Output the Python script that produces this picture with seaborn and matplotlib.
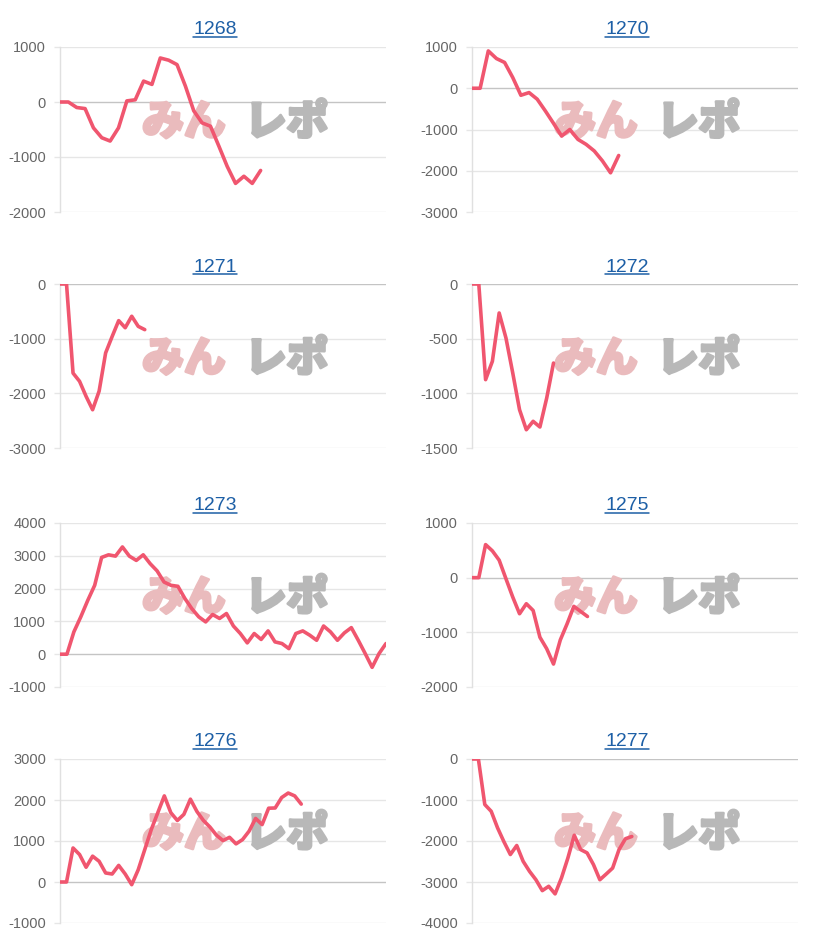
import numpy as np
import pandas as pd
import matplotlib
matplotlib.use("Agg")
import matplotlib.pyplot as plt
import matplotlib.patheffects as pe
from matplotlib.lines import Line2D
from matplotlib.transforms import IdentityTransform, offset_copy
import seaborn as sns

# machine numbers shown as panel titles
machines = ['1268', '1270', '1271', '1272', '1273', '1275', '1276', '1277']

# coin difference readings per machine
diff_1268 = [0, 0, -100, -120, -470, -650, -710, -470, 20, 40, 380, 320, 800, 760,
             680, 290, -160, -380, -440, -800, -1170, -1480, -1350, -1480, -1245]
diff_1270 = [0, 0, 905, 720, 625, 260, -170, -105, -265, -550, -850, -1160, -1000,
             -1240, -1360, -1520, -1760, -2050, -1630]
diff_1271 = [0, 0, -1630, -1780, -2055, -2300, -1960, -1260, -960, -670, -800, -590,
             -775, -835]
diff_1272 = [0, 0, -875, -707, -265, -494, -814, -1150, -1333, -1256, -1308, -1043, -723]
diff_1273 = [0, 0, 680, 1140, 1640, 2100, 2950, 3030, 2990, 3270, 2990, 2860, 3030,
             2760, 2540, 2200, 2100, 2070, 1700, 1390, 1140, 985, 1210, 1090, 1240,
             860, 630, 345, 630, 450, 710, 375, 325, 170, 630, 710, 580, 425, 860,
             680, 425, 650, 810, 425, 20, -400, 20, 325]
diff_1275 = [0, 0, 605, 490, 320, -20, -355, -660, -477, -600, -1090, -1300, -1580,
             -1140, -845, -525, -618, -710]
diff_1276 = [0, 0, 830, 670, 360, 630, 505, 220, 195, 405, 195, -65, 300, 790, 1280,
             1690, 2100, 1690, 1500, 1650, 2020, 1720, 1500, 1340, 1140, 1010, 1090,
             930, 1035, 1240, 1550, 1400, 1800, 1805, 2060, 2170, 2100, 1900]
diff_1277 = [0, 0, -1110, -1275, -1680, -2020, -2330, -2110, -2495, -2740, -2945,
             -3210, -3105, -3290, -2900, -2415, -1860, -2210, -2290, -2575, -2945,
             -2805, -2660, -2210, -1945, -1890]

series = [diff_1268, diff_1270, diff_1271, diff_1272,
          diff_1273, diff_1275, diff_1276, diff_1277]

# y axis range and tick step per panel
y_ranges = [(-2000, 1000, 1000), (-3000, 1000, 1000), (-3000, 0, 1000), (-1500, 0, 500),
            (-1000, 4000, 1000), (-2000, 1000, 1000), (-1000, 3000, 1000), (-4000, 0, 1000)]
# number of time slots on each x axis
x_slots = [39, 40, 50, 48, 47, 48, 50, 51]

LINE = '#f0566f'
TITLE = '#1d5fa6'
PINK = '#eabbbd'
GREY = '#b8b8b8'

sns.set_theme(style='white')
plt.rcParams['font.family'] = ['Liberation Sans', 'DejaVu Sans']
jp = ['Noto Sans CJK JP', 'DejaVu Sans']

rows = []
for m, vals in zip(machines, series):
    for i, v in enumerate(vals):
        rows.append({'machine': m, 'slot': i, 'diff': v})
df = pd.DataFrame(rows)

W, H = 833, 944
fig = plt.figure(figsize=(W / 100, H / 100), dpi=100)

col_x = [60, 472]
row_y = [(47, 212), (284, 448), (523, 687), (759, 923)]
plot_w = 326

axes = []
for k, m in enumerate(machines):
    r, c = divmod(k, 2)
    top, bot = row_y[r]
    ax = fig.add_axes([col_x[c] / W, 1 - bot / H, plot_w / W, (bot - top) / H])
    axes.append(ax)

    lo, hi, step = y_ranges[k]
    ticks = np.arange(lo, hi + step, step)

    # watermark behind the line
    ax.text(0.38, 0.54, 'みん', transform=ax.transAxes, ha='center', va='center',
            fontsize=30, fontweight='black', color=PINK, zorder=1, family=jp,
            path_effects=[pe.withStroke(linewidth=2, foreground=PINK)])
    ax.text(0.695, 0.54, 'レポ', transform=ax.transAxes, ha='center', va='center',
            fontsize=30, fontweight='black', color=GREY, zorder=1, family=jp,
            path_effects=[pe.withStroke(linewidth=2, foreground=GREY)])

    for t in ticks:
        ax.axhline(t, color='#c4c4c4' if t == 0 else '#e6e6e6',
                   lw=1.0, zorder=0.5)

    sns.lineplot(data=df[df['machine'] == m], x='slot', y='diff', ax=ax,
                 color=LINE, linewidth=2.6, zorder=3)

    ax.set_xlim(0, x_slots[k])
    ax.set_ylim(lo, hi)
    ax.set_yticks(ticks)
    ax.set_yticklabels([str(int(t)) for t in ticks])
    ax.set_xticks([])
    ax.set_xlabel('')
    ax.set_ylabel('')
    for s in ['top', 'right', 'bottom']:
        ax.spines[s].set_visible(False)
    ax.spines['left'].set_color('#e0e0e0')
    ax.spines['left'].set_linewidth(1.0)
    ax.tick_params(axis='y', length=4, width=1, color='#e6e6e6',
                   labelsize=10.5, labelcolor='#666666', pad=6, left=True)
    ax.patch.set_alpha(0)
    ax.set_title(m, fontsize=14, color=TITLE, pad=9)
    ax.title.set_transform(offset_copy(ax.title.get_transform(), fig=fig,
                                       x=-8, y=0, units='dots'))

# underline the titles like links
fig.canvas.draw()
renderer = fig.canvas.get_renderer()
for ax in axes:
    bb = ax.title.get_window_extent(renderer)
    y = bb.y0 + 1.5
    fig.add_artist(Line2D([bb.x0, bb.x1], [y, y], transform=IdentityTransform(),
                          color=TITLE, lw=1.1))

fig.savefig('out.png', dpi=100)
